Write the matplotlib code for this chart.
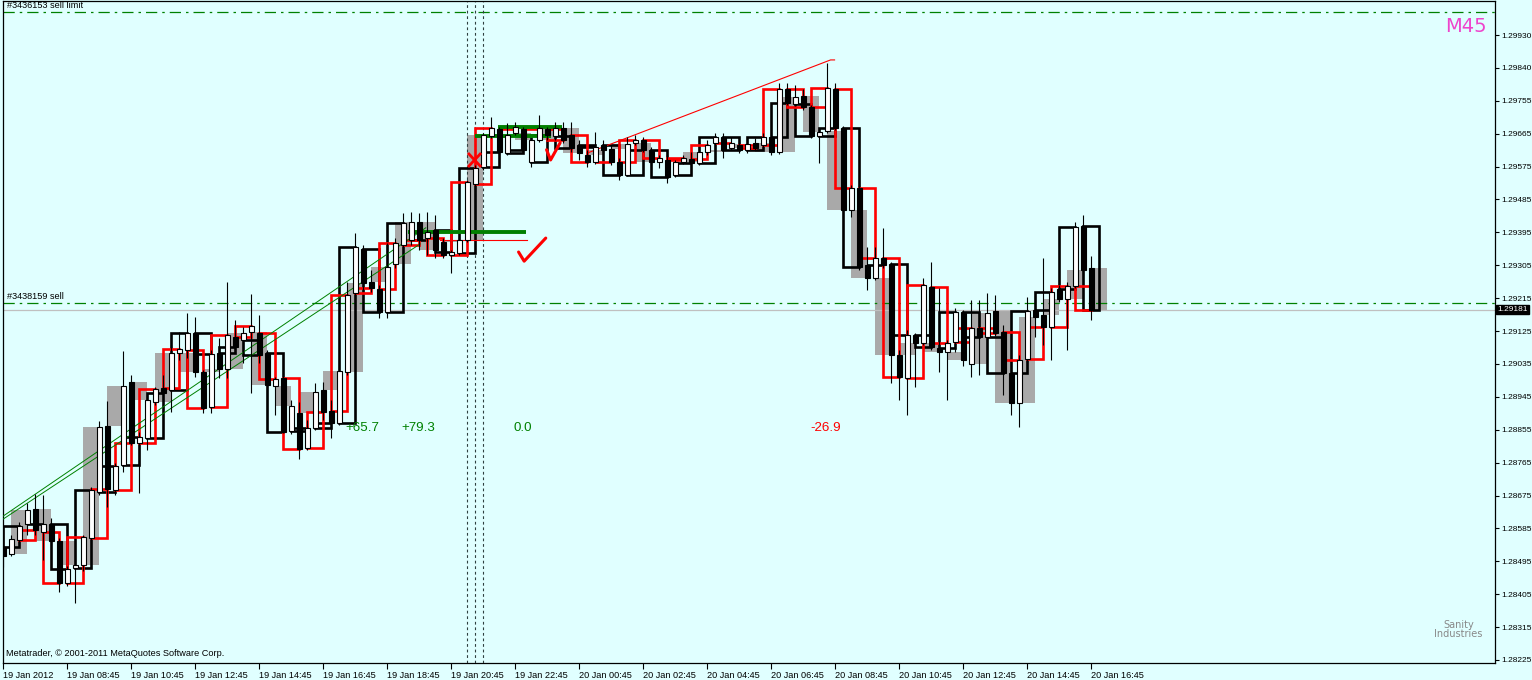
import matplotlib
matplotlib.use("Agg")
import matplotlib.pyplot as plt
from matplotlib.patches import Rectangle
import numpy as np

# ---- M15 bars (19 Jan 06:45 .. 20 Jan 16:45) ----
bar_open = [
    1.28533, 1.28514, 1.28552, 1.28595, 1.28636, 1.28574, 1.28595, 1.28549, 1.28434, 1.28475,
    1.28484, 1.28557, 1.28683, 1.28863, 1.28688, 1.28757, 1.28983, 1.28817, 1.28830, 1.28929,
    1.28967, 1.28961, 1.29062, 1.29070, 1.29117, 1.29010, 1.28915, 1.29062, 1.29020, 1.29106,
    1.29098, 1.29120, 1.29117, 1.29062, 1.28972, 1.28994, 1.28849, 1.28899, 1.28803, 1.28858,
    1.28961, 1.28904, 1.28871, 1.29010, 1.29226, 1.29347, 1.29256, 1.29237, 1.29174, 1.29305,
    1.29357, 1.29371, 1.29420, 1.29376, 1.29397, 1.29366, 1.29330, 1.29335, 1.29371, 1.29523,
    1.29570, 1.29655, 1.29674, 1.29608, 1.29663, 1.29674, 1.29584, 1.29644, 1.29674, 1.29655,
    1.29677, 1.29657, 1.29630, 1.29603, 1.29584, 1.29630, 1.29619, 1.29584, 1.29548, 1.29636,
    1.29644, 1.29617, 1.29584, 1.29589, 1.29548, 1.29584, 1.29592, 1.29581, 1.29611, 1.29636,
    1.29652, 1.29622, 1.29630, 1.29617, 1.29636, 1.29630, 1.29652, 1.29611, 1.29783, 1.29742,
    1.29764, 1.29734, 1.29655, 1.29668, 1.29783, 1.29677, 1.29453, 1.29513, 1.29302, 1.29267,
    1.29322, 1.29305, 1.29057, 1.28994, 1.29111, 1.29090, 1.29242, 1.29076, 1.29065, 1.29093,
    1.29174, 1.29032, 1.29131, 1.29106, 1.29177, 1.29120, 1.29008, 1.28926, 1.29046, 1.29179,
    1.29166, 1.29133, 1.29237, 1.29210, 1.29245, 1.29409, 1.29294,
]
bar_high = [
    1.28552, 1.28565, 1.28601, 1.28653, 1.28677, 1.28675, 1.28612, 1.28557, 1.28481, 1.28497,
    1.28565, 1.28697, 1.28877, 1.28931, 1.28762, 1.29068, 1.29002, 1.28846, 1.28948, 1.28969,
    1.29002, 1.29084, 1.29119, 1.29171, 1.29160, 1.29015, 1.29070, 1.29103, 1.29256, 1.29152,
    1.29133, 1.29223, 1.29166, 1.29070, 1.28997, 1.28999, 1.28934, 1.28929, 1.28879, 1.28980,
    1.28983, 1.28934, 1.29043, 1.29256, 1.29390, 1.29357, 1.29289, 1.29248, 1.29363, 1.29376,
    1.29445, 1.29447, 1.29445, 1.29447, 1.29439, 1.29376, 1.29344, 1.29382, 1.29535, 1.29576,
    1.29663, 1.29705, 1.29679, 1.29690, 1.29693, 1.29679, 1.29649, 1.29712, 1.29679, 1.29692,
    1.29692, 1.29692, 1.29644, 1.29617, 1.29666, 1.29644, 1.29630, 1.29595, 1.29652, 1.29657,
    1.29652, 1.29625, 1.29603, 1.29603, 1.29589, 1.29603, 1.29611, 1.29622, 1.29644, 1.29663,
    1.29663, 1.29652, 1.29638, 1.29644, 1.29649, 1.29663, 1.29663, 1.29800, 1.29800, 1.29794,
    1.29783, 1.29739, 1.29677, 1.29854, 1.29800, 1.29682, 1.29521, 1.29521, 1.29353, 1.29353,
    1.29404, 1.29311, 1.29070, 1.29125, 1.29117, 1.29267, 1.29311, 1.29240, 1.29098, 1.29184,
    1.29179, 1.29207, 1.29207, 1.29226, 1.29221, 1.29139, 1.29015, 1.29057, 1.29215, 1.29218,
    1.29322, 1.29240, 1.29248, 1.29256, 1.29420, 1.29439, 1.29326,
]
bar_low = [
    1.28478, 1.28508, 1.28538, 1.28565, 1.28565, 1.28497, 1.28538, 1.28410, 1.28426, 1.28380,
    1.28468, 1.28552, 1.28675, 1.28642, 1.28675, 1.28737, 1.28811, 1.28680, 1.28797, 1.28920,
    1.28948, 1.28901, 1.29043, 1.29049, 1.28997, 1.28899, 1.28899, 1.28994, 1.28994, 1.29070,
    1.29035, 1.28953, 1.29035, 1.28969, 1.28893, 1.28844, 1.28841, 1.28773, 1.28797, 1.28852,
    1.28879, 1.28830, 1.28866, 1.29002, 1.29221, 1.29234, 1.29228, 1.29157, 1.29157, 1.29294,
    1.29349, 1.29357, 1.29344, 1.29330, 1.29322, 1.29322, 1.29281, 1.29330, 1.29366, 1.29518,
    1.29562, 1.29649, 1.29603, 1.29603, 1.29657, 1.29611, 1.29570, 1.29638, 1.29644, 1.29644,
    1.29636, 1.29611, 1.29589, 1.29570, 1.29578, 1.29608, 1.29576, 1.29535, 1.29545, 1.29630,
    1.29611, 1.29576, 1.29567, 1.29526, 1.29543, 1.29578, 1.29576, 1.29576, 1.29603, 1.29617,
    1.29595, 1.29617, 1.29608, 1.29608, 1.29617, 1.29622, 1.29603, 1.29606, 1.29739, 1.29737,
    1.29726, 1.29649, 1.29581, 1.29663, 1.29671, 1.29447, 1.29434, 1.29289, 1.29234, 1.29262,
    1.29294, 1.28980, 1.28934, 1.28893, 1.28969, 1.29084, 1.29070, 1.29010, 1.28934, 1.29065,
    1.29026, 1.28997, 1.29002, 1.29098, 1.29109, 1.28948, 1.28893, 1.28860, 1.29038, 1.29106,
    1.29084, 1.29043, 1.29201, 1.29070, 1.29240, 1.29275, 1.29152,
]
bar_close = [
    1.28508, 1.28555, 1.28590, 1.28633, 1.28579, 1.28595, 1.28549, 1.28434, 1.28472, 1.28484,
    1.28560, 1.28688, 1.28860, 1.28691, 1.28754, 1.28972, 1.28817, 1.28833, 1.28934, 1.28964,
    1.28953, 1.29062, 1.29073, 1.29117, 1.29010, 1.28912, 1.29060, 1.29020, 1.29111, 1.29079,
    1.29117, 1.29136, 1.29057, 1.28975, 1.28991, 1.28846, 1.28918, 1.28800, 1.28858, 1.28956,
    1.28901, 1.28871, 1.29013, 1.29221, 1.29353, 1.29253, 1.29240, 1.29174, 1.29297, 1.29363,
    1.29417, 1.29420, 1.29371, 1.29393, 1.29344, 1.29330, 1.29338, 1.29371, 1.29530, 1.29567,
    1.29657, 1.29677, 1.29611, 1.29657, 1.29679, 1.29617, 1.29644, 1.29677, 1.29657, 1.29677,
    1.29644, 1.29622, 1.29608, 1.29584, 1.29625, 1.29617, 1.29584, 1.29548, 1.29633, 1.29644,
    1.29617, 1.29584, 1.29595, 1.29543, 1.29584, 1.29595, 1.29581, 1.29611, 1.29630, 1.29652,
    1.29617, 1.29636, 1.29617, 1.29633, 1.29622, 1.29652, 1.29611, 1.29783, 1.29744, 1.29761,
    1.29734, 1.29655, 1.29666, 1.29786, 1.29677, 1.29453, 1.29513, 1.29297, 1.29267, 1.29322,
    1.29302, 1.29057, 1.28997, 1.29111, 1.29090, 1.29248, 1.29079, 1.29065, 1.29090, 1.29174,
    1.29043, 1.29131, 1.29106, 1.29171, 1.29117, 1.29008, 1.28926, 1.29043, 1.29177, 1.29160,
    1.29133, 1.29228, 1.29210, 1.29245, 1.29406, 1.29289, 1.29181,
]

# axis labels as printed by the terminal
x_labels = ["19 Jan 2012", "19 Jan 08:45", "19 Jan 10:45", "19 Jan 12:45", "19 Jan 14:45",
            "19 Jan 16:45", "19 Jan 18:45", "19 Jan 20:45", "19 Jan 22:45", "20 Jan 00:45",
            "20 Jan 02:45", "20 Jan 04:45", "20 Jan 06:45", "20 Jan 08:45", "20 Jan 10:45",
            "20 Jan 12:45", "20 Jan 14:45", "20 Jan 16:45"]
y_labels = ["1.28225", "1.28315", "1.28405", "1.28495", "1.28585", "1.28675", "1.28765",
            "1.28855", "1.28945", "1.29035", "1.29125", "1.29215", "1.29305", "1.29395",
            "1.29485", "1.29575", "1.29665", "1.29755", "1.29840", "1.29930"]
y_label_lo, y_label_hi = 1.28225, 1.29930

bid_price = 1.29181
order_lines = [("#3436153 sell limit", 1.29993), ("#3438159 sell", 1.29198)]
vline_bars = [58, 59, 60]

# drawn objects (bar index, price)
green_trend_1 = ([-0.4, 52.8], [1.28612, 1.29404])
green_trend_2 = ([-0.4, 52.1], [1.28604, 1.29360])
red_trend = ([73.0, 103.4, 103.9], [1.29608, 1.29862, 1.29862])
green_levels = [(50.6, 65.3, 1.29393), (58.9, 68.4, 1.29655), (61.8, 69.8, 1.29680)]
red_level = (54.6, 65.5, 1.29372)
check_marks = [([64.4, 65.1, 67.8], [1.29338, 1.29313, 1.29376]),
               ([67.9, 68.4, 69.6], [1.29617, 1.29589, 1.29636])]
cross_mark = (58.9, 1.29589)
profit_labels = [("+65.7", 44.9, "#008000"), ("+79.3", 51.9, "#008000"),
                 ("0.0", 64.9, "#008000"), ("-26.9", 102.8, "#ff0000")]
profit_price = 1.28858

BG = "#e0ffff"
W, H = 1532, 680
FS = 6.6
FS_Y = 6.0
n = len(bar_open)
assert n == len(bar_high) == len(bar_low) == len(bar_close)
o = np.array(bar_open)
h = np.array(bar_high)
l = np.array(bar_low)
c = np.array(bar_close)
xs = np.arange(n)

fig = plt.figure(figsize=(W / 100, H / 100), dpi=100)
fig.patch.set_facecolor(BG)
ax = fig.add_axes([2.7 / W, 1 - 663 / H, (1495 - 2.7) / W, (663 - 1) / H])
ax.set_facecolor(BG)

px_price = (y_label_hi - y_label_lo) / 625.0
ax.set_xlim(-0.08, 186.45)
ax.set_ylim(y_label_lo - 3 * px_price, y_label_hi + 34 * px_price)


def m45_boxes(phase):
    # 3-bar (M45) bodies, drawn from first bar centre to last bar centre
    out = []
    for s in range(phase, n, 3):
        e = min(s + 2, n - 1)
        out.append((s, o[s], c[e]))
    return out


for s, a, b in m45_boxes(1):
    ax.add_patch(Rectangle((s, min(a, b)), 2, abs(b - a), facecolor="#a9a9a9",
                           edgecolor="none", zorder=1))

for vb in vline_bars:
    ax.axvline(vb, color="#2f3f3f", lw=0.8, ls=(0, (2.5, 2.5)), zorder=1.5)

for s, a, b in m45_boxes(0):
    ax.add_patch(Rectangle((s, min(a, b)), 2, abs(b - a), facecolor="none",
                           edgecolor="black", lw=1.9, zorder=2))
for s, a, b in m45_boxes(2):
    ax.add_patch(Rectangle((s, min(a, b)), 2, abs(b - a), facecolor="none",
                           edgecolor="#ff0000", lw=1.9, zorder=2.2))

# order / bid lines
for txt, price in order_lines:
    ax.axhline(price, color="#008000", lw=0.9, ls=(0, (9, 4, 2, 4)), zorder=1.2)
    ax.annotate(txt, xy=(0.003, price), xycoords=ax.get_yaxis_transform(),
                xytext=(0, 1.5), textcoords="offset points", ha="left", va="bottom",
                fontsize=FS, family="Liberation Sans", color="black", zorder=6)
ax.axhline(bid_price, color="#c0c0c0", lw=0.9, zorder=1.1)

# trend lines and levels
ax.plot(*green_trend_1, color="#008000", lw=0.7, zorder=3)
ax.plot(*green_trend_2, color="#008000", lw=0.7, zorder=3)
ax.plot(*red_trend, color="#ff0000", lw=0.8, zorder=3)
ax.plot([red_level[0], red_level[1]], [red_level[2]] * 2, color="#ff0000", lw=0.8, zorder=3)
for x0, x1, pr in green_levels:
    ax.plot([x0, x1], [pr, pr], color="#008000", lw=2.8, solid_capstyle="butt", zorder=3.1)

# candles
ax.vlines(xs, l, h, color="black", lw=0.8, zorder=4)
bull = c >= o
ax.bar(xs[bull], (c - o)[bull], bottom=o[bull], width=0.6, color="white",
       edgecolor="black", lw=0.8, zorder=4.5)
ax.bar(xs[~bull], (o - c)[~bull], bottom=c[~bull], width=0.6, color="black",
       edgecolor="black", lw=0.8, zorder=4.5)

# hand-drawn marks
for cx, cy in check_marks:
    ax.plot(cx, cy, color="#ff0000", lw=2.2, solid_capstyle="round", zorder=5)
mx, my = cross_mark
ax.plot([mx - 0.7, mx + 0.7], [my - 6 * px_price, my + 6 * px_price], color="#ff0000", lw=2, zorder=5)
ax.plot([mx - 0.7, mx + 0.7], [my + 6 * px_price, my - 6 * px_price], color="#ff0000", lw=2, zorder=5)

for txt, bx, col in profit_labels:
    ax.text(bx, profit_price, txt, color=col, fontsize=9.6, family="Liberation Sans",
            ha="center", va="center", zorder=6)

# axes styling
for sp in ax.spines.values():
    sp.set_color("black")
    sp.set_linewidth(0.9)

ax.set_xticks(np.arange(len(x_labels)) * 8)
ax.set_xticklabels(x_labels, ha="left", fontsize=FS, family="Liberation Sans")
ax.tick_params(axis="x", direction="out", length=4, width=0.8, pad=1.5, colors="black")

ax.yaxis.tick_right()
ax.set_yticks(np.linspace(y_label_lo, y_label_hi, len(y_labels)))
ax.set_yticklabels(y_labels, fontsize=FS_Y, family="Liberation Sans")
ax.tick_params(axis="y", direction="out", length=3, width=0.8, pad=1.5, colors="black")

ax.annotate("1.29181", xy=(1.0, bid_price), xycoords=ax.get_yaxis_transform(),
            xytext=(1.6, 0), textcoords="offset points", ha="left", va="center",
            fontsize=FS_Y, family="Liberation Sans", color="white", zorder=10,
            annotation_clip=False,
            bbox=dict(boxstyle="square,pad=0.12", facecolor="black", edgecolor="black"))

ax.text(0.0025, 0.0136, "Metatrader, \u00a9 2001-2011 MetaQuotes Software Corp.",
        transform=ax.transAxes, fontsize=FS, family="Liberation Sans", ha="left", va="center")
ax.text(0.9805, 0.962, "M45", transform=ax.transAxes, fontsize=14, color="#ee44cc",
        ha="center", va="center")
ax.text(0.9755, 0.05, "Sanity\nIndustries", transform=ax.transAxes, fontsize=7,
        color="#888888", ha="center", va="center", linespacing=0.85)

fig.savefig("out.png", dpi=100, facecolor=BG)
